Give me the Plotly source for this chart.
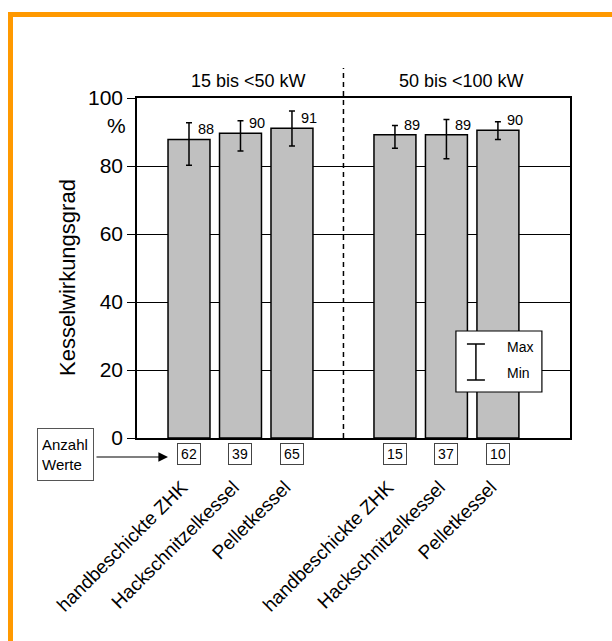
import plotly.graph_objects as go

# ---------------- data ----------------
categories = ["handbeschickte ZHK", "Hackschnitzelkessel", "Pelletkessel",
              "handbeschickte ZHK", "Hackschnitzelkessel", "Pelletkessel"]
groups = ["15 bis <50 kW", "50 bis <100 kW"]
values = [87.8, 89.6, 91.1, 89.2, 89.2, 90.5]
value_labels = ["88", "90", "91", "89", "89", "90"]
max_vals = [92.7, 93.3, 96.2, 91.9, 93.7, 93.0]
min_vals = [80.2, 84.4, 85.9, 85.2, 82.1, 87.8]
counts = [62, 39, 65, 15, 37, 10]
y_ticks = [0, 20, 40, 60, 80, 100]

# ---------------- layout geometry ----------------
W, H = 612, 641
PL, PR, PT, PB = 137, 570, 98, 438  # plot area in pixels
xpos = [0, 1, 2, 4, 5, 6]
XMIN, XMAX = -1.01, 7.40
FONT = "Liberation Sans, Arial, Helvetica, sans-serif"


def px_x(p):
    return (p - PL) / (PR - PL)


def px_y(p):
    return (PB - p) / (PB - PT)


fig = go.Figure()
fig.add_trace(go.Bar(
    x=xpos, y=values, width=0.815,
    marker=dict(color="#c0c0c0", line=dict(color="black", width=1.5)),
    error_y=dict(type="data", symmetric=False,
                 array=[mx - v for mx, v in zip(max_vals, values)],
                 arrayminus=[v - mn for mn, v in zip(min_vals, values)],
                 color="black", thickness=1.5, width=3),
    hoverinfo="skip", showlegend=False,
))

ann = []
shapes = []

# value labels
for x, v, t in zip(xpos, values, value_labels):
    ann.append(dict(x=x, y=v + 3, xref="x", yref="y", text=t, showarrow=False,
                    xanchor="left", yanchor="middle", xshift=7,
                    font=dict(size=14.5, color="black", family=FONT)))

# count boxes
for x, c in zip(xpos, counts):
    ann.append(dict(x=x, y=px_y(454), xref="x", yref="paper", text=str(c),
                    showarrow=False, xanchor="center", yanchor="middle",
                    width=18, height=16, borderpad=2, borderwidth=1,
                    bordercolor="#444", bgcolor="white",
                    font=dict(size=14, color="black", family=FONT)))

# "Anzahl Werte" box + arrow
ann.append(dict(x=px_x(65.5), y=px_y(454.5), xref="paper", yref="paper",
                text="Anzahl<br>Werte", showarrow=False, align="left",
                xanchor="center", yanchor="middle", width=47, height=43,
                borderpad=4, borderwidth=1, bordercolor="#555",
                font=dict(size=15, color="black", family=FONT)))
ann.append(dict(x=px_x(168), y=px_y(457), xref="paper", yref="paper",
                ax=-73, ay=0, text="", showarrow=True, arrowhead=2,
                arrowsize=1.6, arrowwidth=1.2, arrowcolor="black"))

# group titles
ann.append(dict(x=px_x(248), y=px_y(81), xref="paper", yref="paper",
                text=groups[0], showarrow=False, xanchor="center", yanchor="middle",
                font=dict(size=18, color="black", family=FONT)))
ann.append(dict(x=px_x(461.5), y=px_y(81), xref="paper", yref="paper",
                text=groups[1], showarrow=False, xanchor="center", yanchor="middle",
                font=dict(size=18, color="black", family=FONT)))

# y title and % sign
ann.append(dict(x=px_x(67), y=px_y(278), xref="paper", yref="paper",
                text="Kesselwirkungsgrad", textangle=-90, showarrow=False,
                xanchor="center", yanchor="middle",
                font=dict(size=22, color="black", family=FONT)))
ann.append(dict(x=px_x(128), y=px_y(125), xref="paper", yref="paper",
                text="%", showarrow=False, xanchor="right", yanchor="middle",
                font=dict(size=21, color="black", family=FONT)))

# legend box
lx0, lx1 = (456 - 189) / 51.5, (542 - 189) / 51.5
ly1, ly0 = (PB - 331) / 3.4, (PB - 392) / 3.4
shapes.append(dict(type="rect", xref="x", yref="y", x0=lx0, x1=lx1, y0=ly0, y1=ly1,
                   line=dict(color="black", width=1.2), fillcolor="white", layer="above"))
ix = (476 - 189) / 51.5
iy0, iy1 = (PB - 380) / 3.4, (PB - 344) / 3.4
cap = 9 / 51.5
shapes.append(dict(type="line", xref="x", yref="y", x0=ix, x1=ix, y0=iy0, y1=iy1,
                   line=dict(color="black", width=1.5), layer="above"))
for yy in (iy0, iy1):
    shapes.append(dict(type="line", xref="x", yref="y", x0=ix - cap, x1=ix + cap,
                       y0=yy, y1=yy, line=dict(color="black", width=1.5), layer="above"))
ann.append(dict(x=(505 - 189) / 51.5, y=(PB - 347) / 3.4, xref="x", yref="y", text="Max",
                showarrow=False, xanchor="left", yanchor="middle",
                font=dict(size=14, color="black", family=FONT)))
ann.append(dict(x=(505 - 189) / 51.5, y=(PB - 373) / 3.4, xref="x", yref="y", text="Min",
                showarrow=False, xanchor="left", yanchor="middle",
                font=dict(size=14, color="black", family=FONT)))

# dashed separator
shapes.append(dict(type="line", xref="x", yref="paper", x0=3, x1=3, y0=0, y1=px_y(68),
                   line=dict(color="black", width=1.5, dash="5px,4px"), layer="above"))

# orange frame (left and top edges)
orange = "#ff9900"
shapes.append(dict(type="rect", xref="paper", yref="paper",
                   x0=px_x(8), x1=px_x(13), y0=px_y(660), y1=px_y(12),
                   line=dict(width=0), fillcolor=orange))
shapes.append(dict(type="rect", xref="paper", yref="paper",
                   x0=px_x(8), x1=px_x(630), y0=px_y(17), y1=px_y(12),
                   line=dict(width=0), fillcolor=orange))

fig.update_layout(
    width=W, height=H,
    margin=dict(l=PL, r=W - PR, t=PT, b=H - PB, pad=0),
    paper_bgcolor="white", plot_bgcolor="white",
    font=dict(family=FONT, color="black"),
    annotations=ann, shapes=shapes, showlegend=False,
    xaxis=dict(range=[XMIN, XMAX], tickmode="array", tickvals=xpos, ticktext=categories,
               tickangle=-45, ticks="", showgrid=False, zeroline=False,
               showline=True, linecolor="black", linewidth=1.5, mirror=True,
               ticklabelstandoff=29, ticklabelshift=-7,
               tickfont=dict(size=19, family=FONT, color="black")),
    yaxis=dict(range=[0, 100], tickmode="array", tickvals=y_ticks,
               ticks="outside", ticklen=8, tickwidth=1.2, tickcolor="black",
               showgrid=True, gridcolor="black", gridwidth=1, zeroline=False,
               showline=True, linecolor="black", linewidth=1.5, mirror=True,
               tickfont=dict(size=21, family=FONT, color="black")),
)

fig.write_html("out.html")
